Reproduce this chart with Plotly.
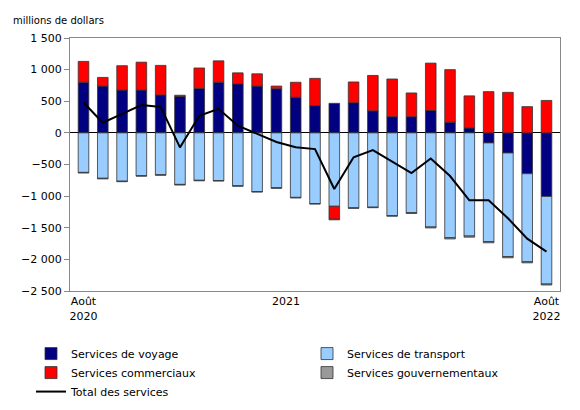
import plotly.graph_objects as go

months = list(range(25))  # Aug 2020 .. Aug 2022
voyage = [800, 740, 677, 677, 600, 575, 703, 800, 775, 740, 698, 564, 431,
          467, 477, 349, 256, 256, 354, 169, 77, -159, -318, -646, -1005]
commerciaux = [330, 137, 385, 441, 467, 20, 323, 339, 174, 194, 42, 236, 431,
               -205, 328, 559, 596, 375, 749, 831, 508, 652, 641, 415, 513]
transport = [-625, -718, -764, -677, -662, -815, -750, -754, -836, -928, -867, -1020, -1118,
             -1160, -1185, -1175, -1308, -1262, -1488, -1657, -1631, -1559, -1637, -1391, -1385]
gouvernementaux = [-10, -10, -8, -8, -8, -10, -8, -8, -8, -8, -10, -10, -8,
                   -10, -8, -8, -10, -12, -15, -20, -18, -20, -20, -18, -15]
total = [480, 160, 300, 440, 410, -230, 270, 380, 113, -20, -144, -226, -256,
         -888, -385, -272, -451, -636, -405, -682, -1067, -1067, -1350, -1672, -1877]

line_style = dict(color="#333333", width=0.8)
fig = go.Figure()
fig.add_bar(x=months, y=voyage, name="Services de voyage",
            marker=dict(color="#000080", line=line_style))
fig.add_bar(x=months, y=transport, name="Services de transport",
            marker=dict(color="#99ccff", line=line_style))
fig.add_bar(x=months, y=commerciaux, name="Services commerciaux",
            marker=dict(color="#ff0000", line=line_style))
fig.add_bar(x=months, y=gouvernementaux, name="Services gouvernementaux",
            marker=dict(color="#999999", line=line_style))
fig.add_scatter(x=months, y=total, name="Total des services", mode="lines",
                line=dict(color="black", width=2))

fig.update_layout(
    width=580, height=410, barmode="relative", bargap=0.45,
    plot_bgcolor="white", paper_bgcolor="white",
    font=dict(family="DejaVu Sans", size=11, color="black"),
    margin=dict(l=62, r=28, t=30, b=120),
    legend=dict(orientation="h", x=-0.03, y=-0.19, xanchor="left", yanchor="top",
                entrywidthmode="fraction", entrywidth=0.5,
                font=dict(size=11), traceorder="normal"),
    annotations=[dict(text="millions de dollars", xref="paper", yref="paper",
                      x=-0.12, y=1.1, xanchor="left", showarrow=False,
                      font=dict(size=10))],
)
fig.update_xaxes(range=[-0.7, 24.7], tickvals=[0, 10.5, 24],
                 ticktext=["Août<br>2020", "2021", "Août<br>2022"],
                 showline=True, linecolor="#888888", mirror=True, showgrid=False,
                 zeroline=False, ticks="")
fig.update_yaxes(range=[-2500, 1500], dtick=500, tickformat=",",
                 showline=True, linecolor="#888888",
                 mirror=True, showgrid=False, ticks="outside", ticklen=5,
                 tickcolor="#888888", zeroline=True, zerolinecolor="black",
                 zerolinewidth=1)
fig.update_layout(separators=". ")
fig.write_html("out.html")
